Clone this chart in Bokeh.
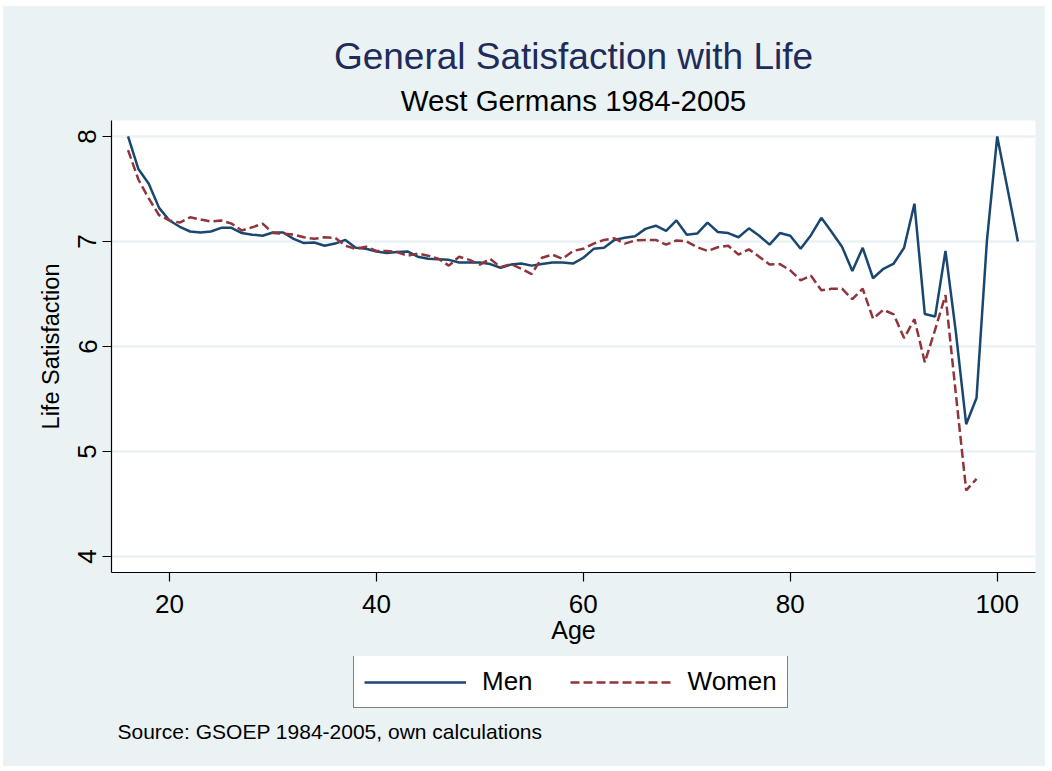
from bokeh.plotting import figure
from bokeh.layouts import column
from bokeh.models import Legend, LegendItem, Title, Range1d, FixedTicker, Label
from bokeh.embed import file_html
from bokeh.resources import INLINE

# ---- data ----
ages_men = list(range(16, 101)) + [102]
men = [8.00, 7.69, 7.55, 7.32, 7.20, 7.14, 7.095, 7.085, 7.095, 7.13,
       7.13, 7.08, 7.065, 7.055, 7.085, 7.085, 7.025, 6.985, 6.99, 6.96,
       6.98, 7.015, 6.94, 6.93, 6.905, 6.89, 6.90, 6.905, 6.855, 6.835,
       6.83, 6.825, 6.80, 6.80, 6.80, 6.785, 6.75, 6.78, 6.79, 6.77,
       6.785, 6.80, 6.80, 6.79, 6.845, 6.93, 6.94, 7.015, 7.035, 7.05,
       7.12, 7.15, 7.10, 7.20, 7.065, 7.075, 7.18, 7.09, 7.08, 7.04,
       7.125, 7.055, 6.97, 7.08, 7.055, 6.93, 7.06, 7.225, 7.09, 6.95,
       6.72, 6.94, 6.65, 6.74, 6.79, 6.94, 7.36, 6.31, 6.285, 6.91,
       6.14, 5.26, 5.51, 7.00, 8.00, 7.00]

ages_women = list(range(16, 99))
women = [7.87, 7.59, 7.41, 7.25, 7.20, 7.18, 7.23, 7.21, 7.19, 7.20,
         7.17, 7.105, 7.135, 7.17, 7.08, 7.075, 7.065, 7.04, 7.025, 7.04,
         7.035, 6.96, 6.93, 6.95, 6.91, 6.91, 6.90, 6.865, 6.885, 6.865,
         6.835, 6.77, 6.855, 6.825, 6.78, 6.835, 6.755, 6.785, 6.74, 6.69,
         6.845, 6.875, 6.835, 6.91, 6.93, 6.98, 7.015, 7.03, 6.98, 7.01,
         7.015, 7.015, 6.97, 7.01, 7.00, 6.945, 6.91, 6.945, 6.96, 6.875,
         6.925, 6.855, 6.78, 6.785, 6.725, 6.63, 6.675, 6.535, 6.55, 6.55,
         6.45, 6.55, 6.265, 6.35, 6.305, 6.08, 6.26, 5.85, 6.16, 6.49,
         5.55, 4.63, 4.74]

x_ticks = [20, 40, 60, 80, 100]
y_ticks = [4, 5, 6, 7, 8]

FONT = "Liberation Sans"
BG = "#EAF2F3"
MEN_COLOR = "#1A476F"
WOMEN_COLOR = "#90353B"
WOMEN_DASH = "9 4"

W = 1042
LEFT, RIGHT = 108, 10

p = figure(width=W, height=650, output_backend="svg", toolbar_location=None,
           title=None,
           x_range=Range1d(14.4, 103.7), y_range=Range1d(3.848, 8.152),
           background_fill_color="white", border_fill_color=BG,
           outline_line_color=None,
           min_border_left=LEFT, min_border_right=RIGHT,
           min_border_top=114, min_border_bottom=84)

p.line(ages_men, men, line_color=MEN_COLOR, line_width=2.5)
p.line(ages_women, women, line_color=WOMEN_COLOR, line_width=2.5,
       line_dash=WOMEN_DASH)

# grid
p.xgrid.visible = False
p.ygrid.grid_line_color = BG
p.ygrid.grid_line_width = 2.5

# axes
for ax in (p.xaxis[0], p.yaxis[0]):
    ax.axis_line_color = "black"
    ax.axis_line_width = 1.2
    ax.major_tick_line_color = "black"
    ax.major_tick_line_width = 1.2
    ax.major_tick_out = 9
    ax.major_tick_in = 0
    ax.minor_tick_line_color = None
    ax.major_label_text_font = FONT
    ax.major_label_text_font_size = "26px"
    ax.major_label_text_color = "black"
    ax.axis_label_text_font = FONT
    ax.axis_label_text_font_style = "normal"
    ax.axis_label_text_color = "black"

p.xaxis[0].ticker = FixedTicker(ticks=x_ticks)
p.yaxis[0].ticker = FixedTicker(ticks=y_ticks)
p.xaxis[0].axis_label = "Age"
p.yaxis[0].axis_label = "Life Satisfaction"
p.xaxis[0].axis_label_text_font_size = "25px"
p.yaxis[0].axis_label_text_font_size = "23.5px"
p.xaxis[0].major_label_standoff = 13
p.xaxis[0].axis_label_standoff = 0
p.yaxis[0].major_label_orientation = "vertical"
p.yaxis[0].major_label_standoff = 6
p.yaxis[0].axis_label_standoff = 12

# titles
sub = Title(text="West Germans 1984-2005", align="center", text_font=FONT,
            text_font_size="29.5px", text_font_style="normal", text_color="black",
            standoff=7)
p.add_layout(sub, "above")
main = Title(text="General Satisfaction with Life", align="center", text_font=FONT,
             text_font_size="37px", text_font_style="normal", text_color="#1F2B5B",
             standoff=4)
p.add_layout(main, "above")

# ---- lower strip: legend and source note ----
H2 = 110
q = figure(width=W, height=H2, output_backend="svg", toolbar_location=None,
           title=None, x_range=Range1d(0, 1), y_range=Range1d(0, 1),
           x_axis_type=None, y_axis_type=None,
           background_fill_color=None, border_fill_color=BG,
           outline_line_color=None,
           min_border_left=LEFT, min_border_right=RIGHT,
           min_border_top=0, min_border_bottom=0)
q.grid.visible = False

# legend proxies: same series, lying outside this strip's ranges (clipped away)
k_men = q.line(ages_men, men, line_color=MEN_COLOR, line_width=2.5)
k_women = q.line(ages_women, women, line_color=WOMEN_COLOR, line_width=2.5,
                 line_dash=WOMEN_DASH)

legend = Legend(items=[LegendItem(label="Men", renderers=[k_men]),
                       LegendItem(label="Women", renderers=[k_women])],
                orientation="horizontal", location=(242, 58),
                border_line_color="black", border_line_width=1.2,
                background_fill_color="white", background_fill_alpha=1.0,
                label_text_font=FONT, label_text_font_size="26px",
                label_text_color="black",
                glyph_width=102, glyph_height=26, label_standoff=16,
                spacing=37, padding=10, margin=0)
q.add_layout(legend, "center")

note = Label(x=6, y=35, x_units="screen", y_units="screen",
             text="Source: GSOEP 1984-2005, own calculations",
             text_font=FONT, text_font_size="21px", text_color="black",
             text_baseline="middle", text_align="left")
q.add_layout(note)

layout = column(p, q, spacing=0, margin=(6, 0, 0, 3),
                styles={"background-color": BG})

open("out.html", "w").write(file_html(layout, INLINE))
